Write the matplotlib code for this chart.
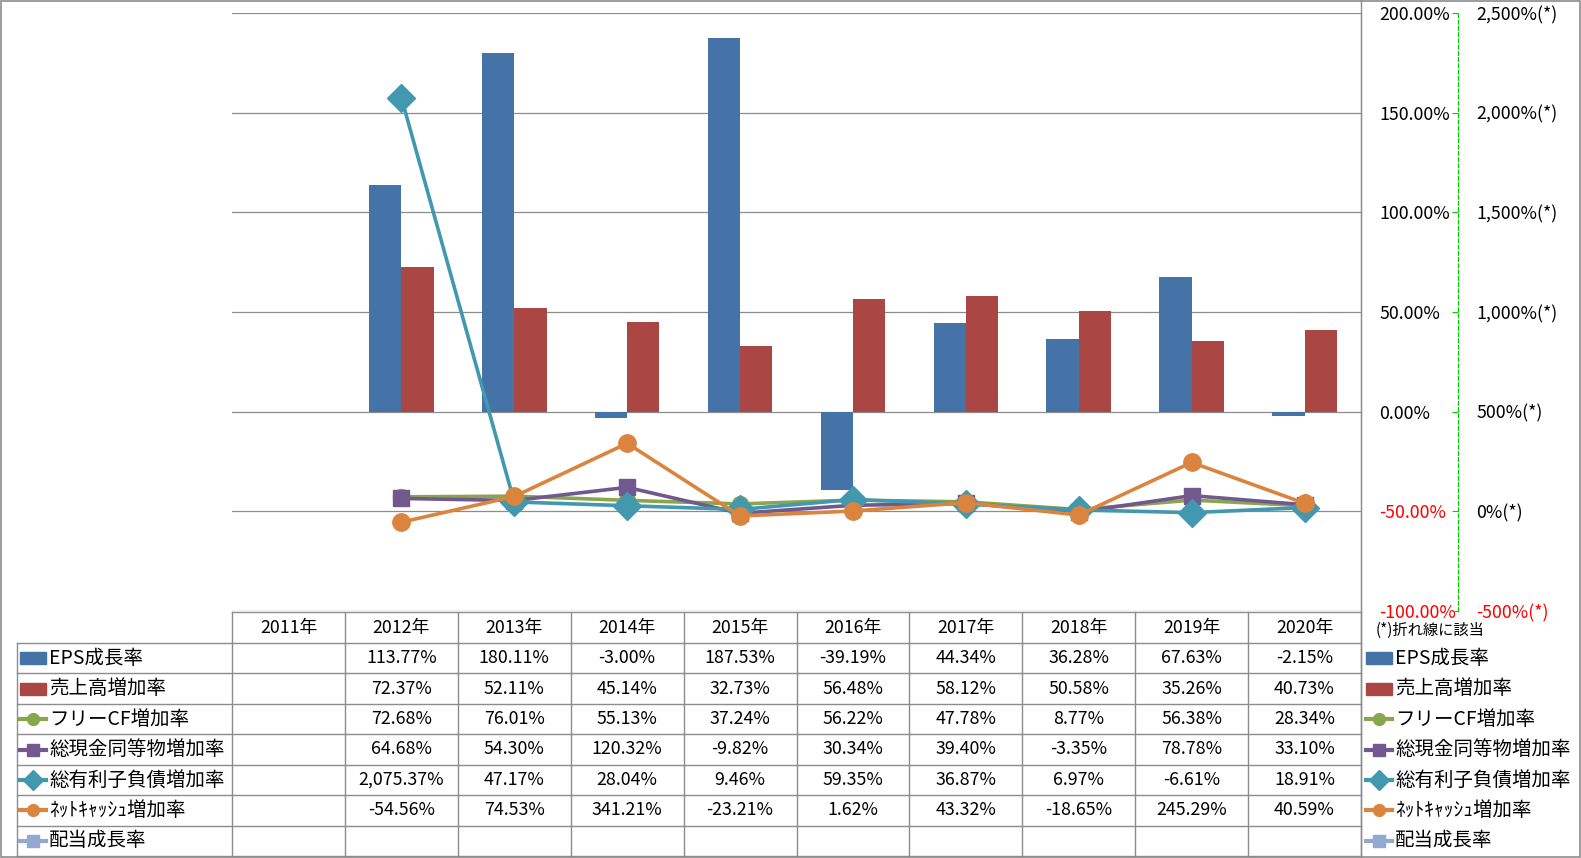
import matplotlib
matplotlib.use("Agg")
import matplotlib.pyplot as plt
from matplotlib.lines import Line2D
from matplotlib.patches import Rectangle
from matplotlib.ticker import FuncFormatter

plt.rcParams["font.family"] = ["Noto Sans CJK JP", "DejaVu Sans"]

years = ["2011年", "2012年", "2013年", "2014年", "2015年",
         "2016年", "2017年", "2018年", "2019年", "2020年"]

# bar series (primary axis), None = no data
eps_growth = [None, 113.77, 180.11, -3.00, 187.53, -39.19, 44.34, 36.28, 67.63, -2.15]
sales_growth = [None, 72.37, 52.11, 45.14, 32.73, 56.48, 58.12, 50.58, 35.26, 40.73]

# line series (secondary axis)
fcf_growth = [None, 72.68, 76.01, 55.13, 37.24, 56.22, 47.78, 8.77, 56.38, 28.34]
cash_growth = [None, 64.68, 54.30, 120.32, -9.82, 30.34, 39.40, -3.35, 78.78, 33.10]
debt_growth = [None, 2075.37, 47.17, 28.04, 9.46, 59.35, 36.87, 6.97, -6.61, 18.91]
netcash_growth = [None, -54.56, 74.53, 341.21, -23.21, 1.62, 43.32, -18.65, 245.29, 40.59]
dividend_growth = [None] * 10

primary_ticks = [-100, -50, 0, 50, 100, 150, 200]
secondary_ticks = [-500, 0, 500, 1000, 1500, 2000, 2500]

series = [
    ("EPS成長率", eps_growth, "bar", "#4572A7", None),
    ("売上高増加率", sales_growth, "bar", "#AA4643", None),
    ("フリーCF増加率", fcf_growth, "line", "#89A54E", "o"),
    ("総現金同等物増加率", cash_growth, "line", "#71588F", "s"),
    ("総有利子負債増加率", debt_growth, "line", "#4198AF", "D"),
    ("ﾈｯﾄｷｬｯｼｭ増加率", netcash_growth, "line", "#DB843D", "o"),
    ("配当成長率", dividend_growth, "line", "#93A9CF", "s"),
]
marker_sizes = {"フリーCF増加率": 11.5, "総現金同等物増加率": 12,
                "総有利子負債増加率": 14, "ﾈｯﾄｷｬｯｼｭ増加率": 12.5, "配当成長率": 12}

W, H = 1581, 858
fig = plt.figure(figsize=(W / 100, H / 100), dpi=100)

# overlay in pixel coords for the data table
ov = fig.add_axes([0, 0, 1, 1])
ov.set_xlim(0, W)
ov.set_ylim(H, 0)
ov.axis("off")

px_l, px_r, px_t, px_b = 232, 1361, 13, 611
ax = fig.add_axes([px_l / W, 1 - px_b / H, (px_r - px_l) / W, (px_b - px_t) / H])
ax.set_zorder(2)
ax.patch.set_alpha(0)
ax2 = ax.twinx()

grid_c = "#8C8C8C"
n = len(years)
bw = 0.286

for k, (name, vals, kind, color, mk) in enumerate(series[:2]):
    off = -bw / 2 if k == 0 else bw / 2
    xs = [i + off for i, v in enumerate(vals) if v is not None]
    ys = [v for v in vals if v is not None]
    ax.bar(xs, ys, width=bw, color=color, zorder=3)

for name, vals, kind, color, mk in series[2:]:
    xs = [i for i, v in enumerate(vals) if v is not None]
    ys = [v for v in vals if v is not None]
    if xs:
        ax2.plot(xs, ys, color=color, lw=2.6, marker=mk,
                 ms=marker_sizes[name], zorder=4)

ax.set_xlim(-0.5, n - 0.5)
ax.set_ylim(-100, 200)
ax2.set_ylim(-500, 2500)
ax.set_yticks(primary_ticks)
ax2.set_yticks(secondary_ticks)
ax.set_xticks([])
ax.yaxis.grid(True, color=grid_c, lw=0.9)
ax.set_axisbelow(True)

ax.yaxis.tick_right()
ax.yaxis.set_major_formatter(FuncFormatter(lambda v, p: f"{v:.2f}%"))
ax.tick_params(axis="y", length=0, pad=13, labelsize=12.8)
ax2.yaxis.set_major_formatter(FuncFormatter(lambda v, p: f"{v:,.0f}%(*)"))
ax2.tick_params(axis="y", direction="in", length=4, color="#00CC00", pad=13, labelsize=12.8)

for a in (ax, ax2):
    for s in ("top", "left", "bottom"):
        a.spines[s].set_visible(False)
ax.spines["right"].set_color(grid_c)
ax2.spines["right"].set_position(("axes", (1458 - px_l) / (px_r - px_l)))
ax2.spines["right"].set_color("#00CC00")
ax2.spines["right"].set_linestyle((0, (3, 2)))
ax2.spines["right"].set_linewidth(0.9)

# data table
col_w = (px_r - px_l) / n
head_t, head_b = 612, 643
row_h = (856 - head_b) / len(series)
lw_t = 1.0

ov.plot([px_l, px_r], [head_t, head_t], color=grid_c, lw=lw_t)
for j in range(len(series) + 1):
    y = head_b + j * row_h
    ov.plot([17, px_r], [y, y], color=grid_c, lw=lw_t)
for i in range(n + 1):
    xx = px_l + i * col_w
    ov.plot([xx, xx], [head_t, head_b + len(series) * row_h], color=grid_c, lw=lw_t)
ov.plot([17, 17], [head_b, head_b + len(series) * row_h], color=grid_c, lw=lw_t)
ov.plot([px_r, px_r], [0, H], color=grid_c, lw=lw_t)
ov.add_patch(Rectangle((0.5, 0.5), W - 1.5, H - 1.5, fill=False, ec=grid_c, lw=1.2))

for i, yr in enumerate(years):
    ov.text(px_l + (i + 0.5) * col_w, (head_t + head_b) / 2, yr,
            ha="center", va="center", fontsize=12.8)


def legend_key(x0, yc, kind, color, mk):
    if kind == "bar":
        ov.add_patch(Rectangle((x0, yc - 6), 26, 12, color=color))
    else:
        ov.add_line(Line2D([x0, x0 + 26], [yc, yc], color=color, lw=3))
        ov.plot([x0 + 13], [yc], marker=mk, color=color,
                ms=8.5 if mk != "D" else 10)


for j, (name, vals, kind, color, mk) in enumerate(series):
    yc = head_b + (j + 0.5) * row_h
    legend_key(20, yc, kind, color, mk)
    ov.text(49, yc, name, ha="left", va="center", fontsize=14)
    legend_key(1366, yc, kind, color, mk)
    ov.text(1395, yc, name, ha="left", va="center", fontsize=14)
    for i, v in enumerate(vals):
        if v is not None:
            ov.text(px_l + (i + 0.5) * col_w, yc, f"{v:,.2f}%",
                    ha="center", va="center", fontsize=12.8)

ov.text(1376, 630, "(*)折れ線に該当", ha="left", va="center", fontsize=11)

# negative tick labels in red (set after a draw so the ticks exist)
fig.canvas.draw()
for a in (ax, ax2):
    for t in a.yaxis.get_major_ticks():
        if t.get_loc() < 0:
            t.label1.set_color("red")
            t.label2.set_color("red")

fig.savefig("out.png", dpi=100)
